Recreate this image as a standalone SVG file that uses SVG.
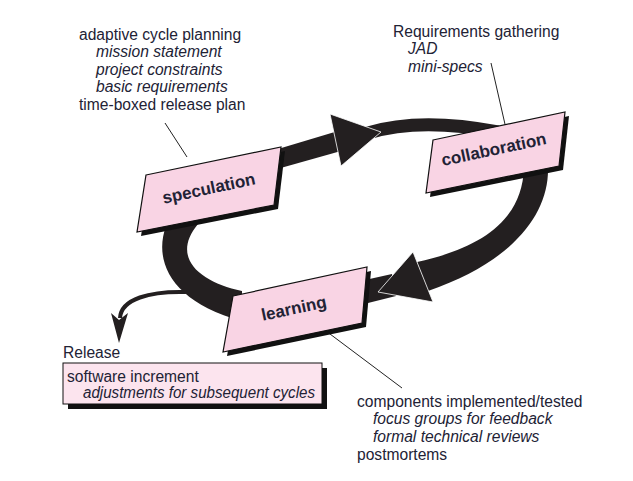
<svg xmlns="http://www.w3.org/2000/svg" width="633" height="481" viewBox="0 0 633 481">
<style>
.t{font-family:"Liberation Sans",Arial,sans-serif;font-size:15.6px;fill:#222235}
.i{font-style:italic}
.lbl{font-family:"Liberation Sans",Arial,sans-serif;font-size:17px;font-weight:bold;fill:#222235;text-anchor:middle}
.box{fill:#f9d4e4;stroke:#111;stroke-width:1.2}
.sh{fill:#111}
.band{fill:#231f20}
.head{fill:#231f20;stroke:#fff;stroke-width:0.8}
.lead{stroke:#222;stroke-width:1;fill:none}
</style>
<rect width="633" height="481" fill="#fff"/>
<g id="connectors">
  <path class="band" d="M268,152 L338,131 L341,151 L270,171 Z"/>
  <path d="M368,133 Q420,117 498,132" fill="none" stroke="#231f20" stroke-width="13"/>
  <path class="band" d="M524,168 L548,168 C549,215 512,262 428,291 L417,262 C482,248 522,220 524,168 Z"/>
  <path class="band" d="M356,282 L392,274 L396,296 L356,306 Z"/>
  <path class="band" d="M166,226 C153,262 172,302 242,321 L242,291 C200,282 170,258 198,224 Z"/>
  <polygon class="head" points="330,114 381,132 341,166"/>
  <polygon class="head" points="413,252 378,292 433,302"/>
  <path d="M186,292 C150,291 121,299 120,318" fill="none" stroke="#231f20" stroke-width="4"/>
  <polygon fill="#231f20" points="111,313 119,320 128,313 119,343"/>
  <line class="lead" x1="165" y1="123" x2="187" y2="157"/>
  <line class="lead" x1="491" y1="63" x2="507" y2="133"/>
  <line class="lead" x1="318" y1="325" x2="402" y2="388"/>
</g>
<g id="speculation">
  <polygon class="sh" points="150,179 285,151 278,209 141,236"/>
  <polygon class="box" points="146,175 281,147 274,205 137,232"/>
  <text class="lbl" transform="translate(210,194) rotate(-12)">speculation</text>
</g>
<g id="collaboration">
  <polygon class="sh" points="437,144 569,116 563,170 430,197"/>
  <polygon class="box" points="433,140 565,112 559,166 426,193"/>
  <text class="lbl" transform="translate(495,155) rotate(-12)">collaboration</text>
</g>
<g id="learning">
  <polygon class="sh" points="237,300 371,271 366,327 227,356"/>
  <polygon class="box" points="233,296 367,267 362,323 223,352"/>
  <text class="lbl" transform="translate(295,314) rotate(-12)">learning</text>
</g>
<g id="speculation-notes">
  <text class="t" x="79" y="40">adaptive cycle planning</text>
  <text class="t i" x="96" y="57">mission statement</text>
  <text class="t i" x="96" y="75">project constraints</text>
  <text class="t i" x="96" y="92">basic requirements</text>
  <text class="t" x="79" y="110">time-boxed release plan</text>
</g>
<g id="collaboration-notes">
  <text class="t" x="393" y="37">Requirements gathering</text>
  <text class="t i" x="408" y="54">JAD</text>
  <text class="t i" x="408" y="72">mini-specs</text>
</g>
<g id="learning-notes">
  <text class="t" x="357" y="407">components implemented/tested</text>
  <text class="t i" x="373" y="424">focus groups for feedback</text>
  <text class="t i" x="373" y="442">formal technical reviews</text>
  <text class="t" x="357" y="460">postmortems</text>
</g>
<g id="release">
  <text class="t" x="63" y="358">Release</text>
  <rect x="68" y="368" width="259" height="41" fill="#111"/>
  <rect x="63" y="363" width="259" height="41" fill="#fce4ee" stroke="#111" stroke-width="1"/>
  <text class="t" x="67" y="382">software increment</text>
  <text class="t i" x="83" y="398" textLength="232" lengthAdjust="spacingAndGlyphs">adjustments for subsequent cycles</text>
</g>
</svg>
